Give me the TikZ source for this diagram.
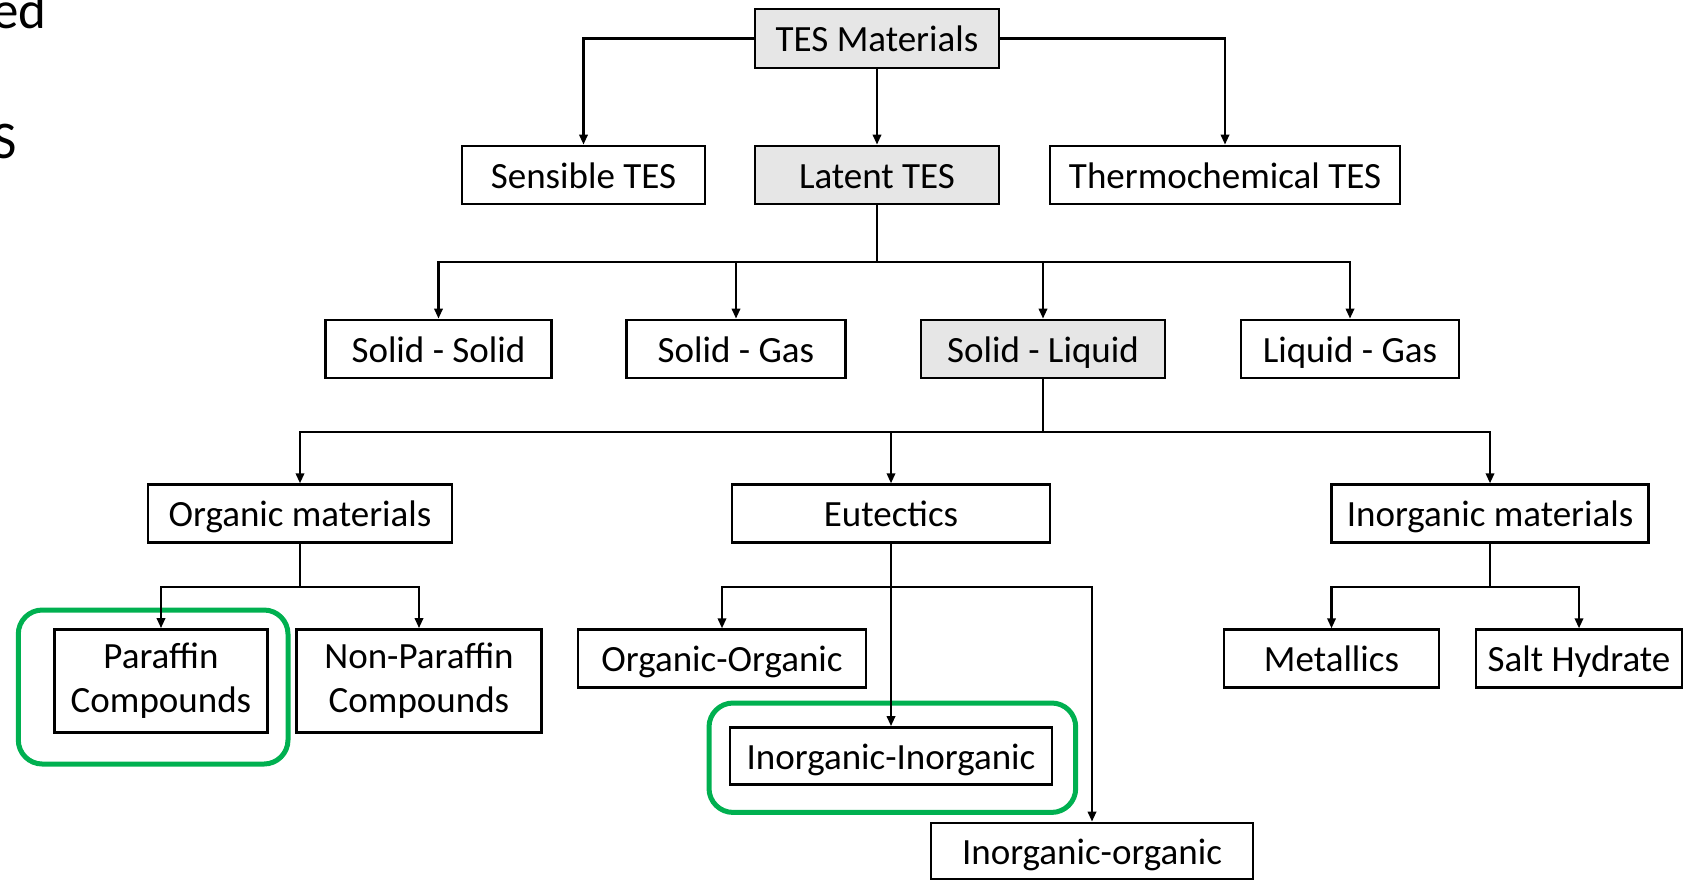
\documentclass[tikz,border=0pt]{standalone}
\usepackage{fontspec}
\setmainfont{Carlito}
\usetikzlibrary{arrows.meta}
\definecolor{boxgray}{HTML}{E6E6E6}
\definecolor{hlgreen}{HTML}{00B050}
\tikzset{
  box/.style={draw=black, line width=1.4pt, inner sep=0pt, minimum height=29pt,
    font=\fontsize{18.5}{22}\selectfont, align=center, text=black},
  onebox/.style={box, text height=17pt, text depth=4pt},
  graybox/.style={onebox, fill=boxgray},
  conn/.style={line width=1.1pt, draw=black},
  arr/.style={conn, -{Triangle[length=5pt,width=4.2pt]}},
  hilite/.style={draw=hlgreen, line width=2.5pt, rounded corners=12pt},
  cuttext/.style={inner sep=0pt, font=\fontsize{26.5}{30}\selectfont, anchor=base east}
}
\begin{document}
\begin{tikzpicture}[x=0.5pt, y=-0.5pt]
\useasboundingbox (0,0) rectangle (1685,880);

% cut-off text at left edge
\node[cuttext] (cuta) at (47,28) {ed};
\node[cuttext] (cutb) at (17,158) {S};

% row 1
\node[graybox, minimum width=122pt, minimum height=29.5pt] (tes) at (877,38.5) {TES Materials};
% row 2
\node[onebox, minimum width=121.5pt] (sens) at (583.5,175) {Sensible TES};
\node[graybox, minimum width=122pt] (latent) at (877,175) {Latent TES};
\node[onebox, minimum width=175pt] (thermo) at (1225,175) {Thermochemical TES};
% row 3
\node[onebox, minimum width=113pt] (ss) at (438.5,349) {Solid - Solid};
\node[onebox, minimum width=109.5pt] (sg) at (736,349) {Solid - Gas};
\node[graybox, minimum width=122pt] (sl) at (1043,349) {Solid - Liquid};
\node[onebox, minimum width=109pt] (lg) at (1350,349) {Liquid - Gas};
% row 4
\node[onebox, minimum width=152pt] (org) at (300,513.7) {Organic materials};
\node[onebox, minimum width=159pt] (eut) at (891,513.7) {Eutectics};
\node[onebox, minimum width=158.5pt] (inorg) at (1490,513.7) {Inorganic materials};
% row 5
\node[box, minimum width=106.5pt, minimum height=51.5pt] (par) at (161,681) {Paraffin\\Compounds};
\node[box, minimum width=122.5pt, minimum height=51.5pt] (npar) at (419,681) {Non-Paraffin\\Compounds};
\node[onebox, minimum width=144pt] (oo) at (722,658.7) {Organic-Organic};
\node[onebox, minimum width=161pt, minimum height=28.5pt] (ii) at (891,756) {Inorganic-Inorganic};
\node[onebox, minimum width=161pt, minimum height=28pt] (io) at (1092,851) {Inorganic-organic};
\node[onebox, minimum width=107.5pt] (met) at (1331.5,658.7) {Metallics};
\node[onebox, minimum width=103pt] (salt) at (1579,658.7) {Salt Hydrate};

% highlight frames
\draw[hilite] (18.3,610) rectangle (288,764);
\draw[hilite] (709,703) rectangle (1075.7,812.4);

% connectors: TES Materials
\draw[arr] (tes.west) -| (sens.north);
\draw[arr] (tes.east) -| (thermo.north);
\draw[arr] (tes.south) -- (latent.north);

% Latent TES
\coordinate (j1) at (877,262);
\draw[conn] (latent.south) -- (j1);
\foreach \n in {ss,sg,sl,lg} \draw[arr] (j1) -| (\n.north);

% Solid - Liquid
\coordinate (j2) at (1043,432);
\draw[conn] (sl.south) -- (j2);
\foreach \n in {org,eut,inorg} \draw[arr] (j2) -| (\n.north);

% Organic materials
\coordinate (j3) at (300,586.7);
\draw[conn] (org.south) -- (j3);
\foreach \n in {par,npar} \draw[arr] (j3) -| (\n.north);

% Eutectics
\coordinate (j4) at (891,586.7);
\draw[arr] (eut.south) -- (ii.north);
\foreach \n in {oo,io} \draw[arr] (j4) -| (\n.north);

% Inorganic materials
\coordinate (j5) at (1490,586.7);
\draw[conn] (inorg.south) -- (j5);
\foreach \n in {met,salt} \draw[arr] (j5) -| (\n.north);
\end{tikzpicture}
\end{document}
